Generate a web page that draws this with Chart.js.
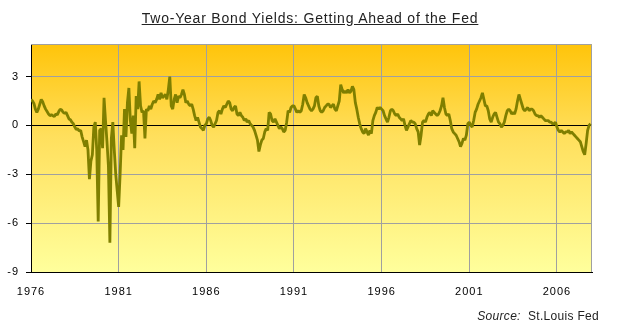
<!DOCTYPE html>
<html>
<head>
<meta charset="utf-8">
<script src="https://cdn.jsdelivr.net/npm/chart.js@4.4.1/dist/chart.umd.min.js"></script>
<style>
    html, body { margin: 0; padding: 0; background: #fff; }
    #wrap { position: relative; width: 620px; height: 327px; }
    canvas { position: absolute; left: 0; top: 0; }
    #title {
        position: absolute; left: 0; top: 10px; width: 620px; text-align: center;
        font: 14px "Liberation Sans", Arial, sans-serif; color: #222;
        letter-spacing: 0.8px;
        text-decoration: underline;
    }
    #source {
        position: absolute; right: 21px; top: 309px;
        font: 12px "Liberation Sans", Arial, sans-serif; color: #222;
        letter-spacing: 0.3px;
    }
</style>
</head>
<body>
<div id="wrap">
    <canvas id="yieldChart" width="620" height="327"></canvas>
    <div id="title">Two-Year Bond Yields: Getting Ahead of the Fed</div>
    <div id="source"><i>Source:</i>&nbsp; St.Louis Fed</div>
</div>
<script>
// monthly spread, 2-year Treasury yield minus Fed funds rate (% points)
const startYear = 1976;
const spread = [
    1.6, 1.5, 1.35, 1.0, 0.8, 1.0, 1.3, 1.6, 1.45, 1.2, 1.0, 0.85,         // 1976
    0.7, 0.6, 0.65, 0.6, 0.55, 0.7, 0.65, 0.85, 1.0, 0.95, 0.8, 0.75,      // 1977
    0.8, 0.6, 0.4, 0.35, 0.2, 0.1, -0.1, -0.25, -0.2, -0.35, -0.3, -0.7,   // 1978
    -1.0, -1.3, -0.9, -1.5, -3.3, -2.2, -1.8, -0.1, 0.2, -1.5, -5.9, -0.3, // 1979
    -0.2, -1.4, 1.7, 0.3, -1.0, -2.5, -7.2, -0.8, 0.2, -1.5, -3.0, -4.0,   // 1980
    -5.0, -3.0, -0.6, -1.5, 1.0, -0.7, 1.4, 2.3, 0.3, -0.5, 0.6, -1.4,     // 1981
    1.8, 1.0, 2.7, 1.2, 0.8, 0.9, -0.8, 1.0, 0.9, 1.2, 1.0, 1.3,           // 1982
    1.5, 1.4, 1.6, 1.9, 1.6, 2.0, 1.7, 1.8, 1.9, 1.6, 2.2, 3.0,            // 1983
    1.2, 1.0, 1.6, 1.9, 1.4, 1.8, 1.7, 1.9, 2.2, 1.9, 1.4, 1.5,            // 1984
    1.3, 1.2, 1.3, 1.0, 0.6, 0.3, 0.5, 0.2, -0.1, -0.2, -0.3, 0.0,         // 1985
    0.1, 0.4, 0.5, 0.3, 0.0, -0.1, 0.1, 0.3, 0.8, 0.9, 0.7, 1.0,           // 1986
    1.2, 1.1, 1.3, 1.5, 1.4, 1.0, 0.9, 1.1, 1.2, 0.7, 0.6, 0.8,            // 1987
    0.6, 0.5, 0.3, 0.4, 0.2, 0.3, 0.1, 0.0, -0.1, -0.3, -0.6, -0.9,        // 1988
    -1.6, -1.2, -0.9, -0.8, -0.4, -0.2, -0.3, 0.8, 0.7, 0.3, 0.2, 0.4,     // 1989
    0.2, 0.0, -0.2, -0.1, -0.2, -0.4, -0.3, 0.2, 0.9, 0.8, 1.1, 1.2,       // 1990
    1.2, 1.0, 0.8, 0.9, 0.8, 0.9, 1.3, 1.9, 1.7, 1.4, 1.2, 1.0,            // 1991
    0.9, 1.0, 1.2, 1.7, 1.8, 1.2, 0.9, 0.8, 0.9, 1.1, 1.2, 1.3,            // 1992
    1.3, 1.1, 1.2, 1.3, 1.0, 0.9, 1.2, 1.5, 2.5, 2.2, 2.0, 2.1,            // 1993
    2.0, 2.2, 2.0, 2.1, 2.4, 2.2, 1.4, 1.0, 0.5, 0.1, -0.2, -0.4,          // 1994
    -0.5, -0.2, -0.4, -0.6, -0.3, -0.5, 0.3, 0.6, 0.8, 1.1, 1.0, 1.1,      // 1995
    1.0, 0.9, 0.6, 0.4, 0.2, 0.5, 0.9, 1.0, 0.9, 0.7, 0.6, 0.7,            // 1996
    0.5, 0.4, 0.3, 0.4, 0.0, -0.3, -0.1, 0.1, 0.3, 0.2, 0.2, 0.1,          // 1997
    -0.2, -0.4, -1.2, -0.6, 0.2, 0.3, 0.2, 0.5, 0.7, 0.8, 0.6, 0.9,        // 1998
    0.8, 0.7, 0.6, 0.7, 0.9, 1.2, 1.7, 1.1, 0.7, 0.6, 0.7, 0.3,            // 1999
    -0.2, -0.4, -0.5, -0.6, -0.8, -1.0, -1.3, -1.1, -0.8, -0.9, -0.6, 0.1, // 2000
    0.2, 0.0, -0.1, 0.3, 0.8, 1.0, 1.3, 1.5, 1.7, 2.0, 1.6, 1.2,           // 2001
    1.2, 0.9, 0.4, 0.2, 0.5, 0.7, 0.8, 0.5, 0.2, 0.1, -0.1, 0.0,           // 2002
    0.2, 0.6, 0.9, 1.0, 0.9, 0.7, 0.8, 0.7, 1.0, 1.5, 1.9, 1.6,            // 2003
    1.3, 1.0, 0.9, 1.0, 1.1, 0.9, 1.0, 1.0, 0.9, 0.7, 0.6, 0.6,            // 2004
    0.5, 0.6, 0.5, 0.4, 0.3, 0.3, 0.3, 0.2, 0.2, 0.1, 0.1, 0.2,            // 2005
    -0.1, -0.3, -0.4, -0.3, -0.4, -0.5, -0.4, -0.4, -0.3, -0.5, -0.4, -0.5, // 2006
    -0.6, -0.7, -0.8, -0.9, -1.0, -1.3, -1.6, -1.8, -1.1, -0.3, 0.0, 0.1   // 2007
];

const xTicks = [1976, 1981, 1986, 1991, 1996, 2001, 2006];
const yTicks = [3, 0, -3, -6, -9];

const points = spread.map((v, i) => ({ x: startYear + i / 12, y: v }));

const tickFont = { family: "'Liberation Sans', Arial, sans-serif", size: 11 };

// yellow-to-orange plot background plus the grey top/right frame
const plotFrame = {
    id: "plotFrame",
    beforeDraw(chart) {
        const { ctx, chartArea: a } = chart;
        ctx.letterSpacing = "1px";
        const g = ctx.createLinearGradient(0, a.top, 0, a.bottom);
        g.addColorStop(0, "#ffc40a");
        g.addColorStop(0.4, "#ffdf5c");
        g.addColorStop(1, "#ffff9c");
        ctx.save();
        ctx.fillStyle = g;
        ctx.fillRect(a.left, a.top, a.right - a.left, a.bottom - a.top);
        ctx.restore();
    },
    beforeDatasetsDraw(chart) {
        const { ctx, chartArea: a } = chart;
        ctx.save();
        ctx.strokeStyle = "#a0a0a0";
        ctx.lineWidth = 1;
        ctx.beginPath();
        ctx.moveTo(a.left, a.top + 0.5);
        ctx.lineTo(a.right - 0.5, a.top + 0.5);
        ctx.lineTo(a.right - 0.5, a.bottom);
        ctx.stroke();
        ctx.restore();
    }
};

new Chart(document.getElementById("yieldChart"), {
    type: "line",
    data: {
        datasets: [{
            data: points,
            borderColor: "#7f7f00",
            borderWidth: 2.8,
            borderJoinStyle: "bevel",
            pointRadius: 0,
            tension: 0,
            fill: false
        }]
    },
    options: {
        responsive: false,
        animation: false,
        layout: {
            padding: { top: 44, right: 28, left: 0, bottom: 0 }
        },
        plugins: {
            legend: { display: false },
            tooltip: { enabled: false }
        },
        scales: {
            x: {
                type: "linear",
                min: 1976,
                max: 2008,
                afterBuildTicks: axis => {
                    axis.ticks = xTicks.map(v => ({ value: v }));
                },
                afterFit: scale => { scale.height = 55; },
                grid: {
                    color: "#a0a0a0",
                    drawTicks: false
                },
                border: { color: "#000", width: 1 },
                ticks: {
                    autoSkip: false,
                    maxRotation: 0,
                    padding: 13,
                    color: "#000",
                    font: tickFont,
                    callback: v => String(v)
                }
            },
            y: {
                min: -9,
                max: 5,
                afterBuildTicks: axis => {
                    axis.ticks = yTicks.map(v => ({ value: v }));
                },
                afterFit: scale => { scale.width = 31; },
                grid: {
                    color: c => c.tick && c.tick.value === 0 ? "#000" : "#a0a0a0",
                    tickColor: "#000",
                    tickLength: 5
                },
                border: { color: "#000", width: 1 },
                ticks: {
                    padding: 7,
                    color: "#000",
                    font: tickFont,
                    callback: v => String(v)
                }
            }
        }
    },
    plugins: [plotFrame]
});
</script>
</body>
</html>
